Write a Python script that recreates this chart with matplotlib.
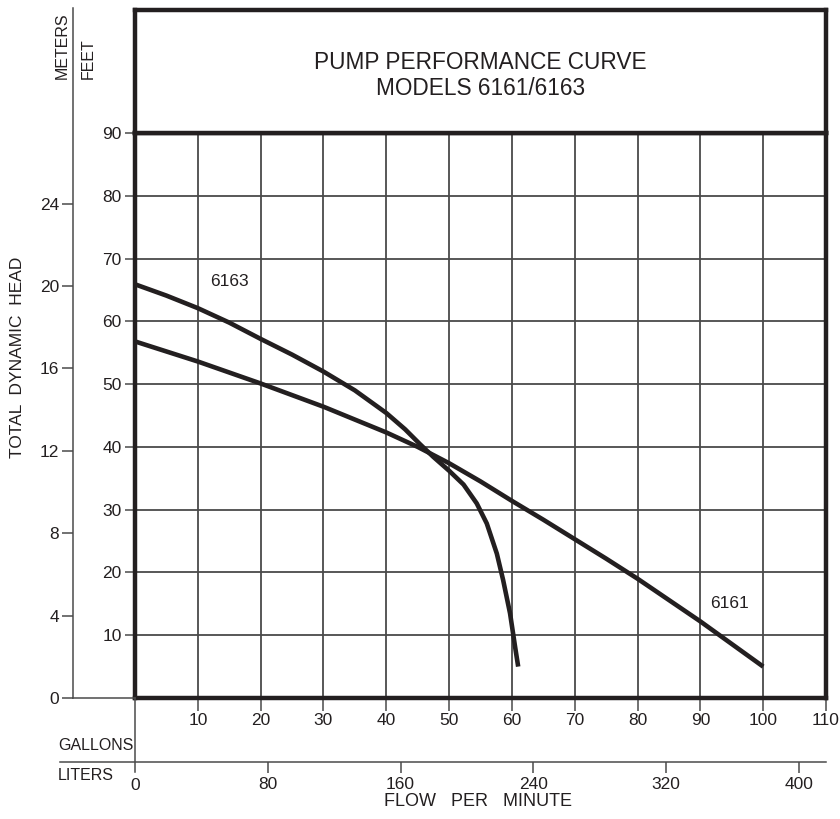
import matplotlib
matplotlib.use("Agg")
import matplotlib.pyplot as plt
from matplotlib.lines import Line2D

plt.rcParams['font.family'] = ['Liberation Sans', 'DejaVu Sans']

# data (gallons per minute vs. feet of head)
gpm_6161 = [0, 10, 20, 30, 40, 45, 50, 55, 60, 65, 70, 75, 80, 85, 90, 95, 100]
head_6161 = [56.8, 53.6, 50.1, 46.4, 42.3, 40.0, 37.4, 34.5, 31.4, 28.4, 25.3,
             22.2, 19.0, 15.6, 12.2, 8.6, 5.0]
gpm_6163 = [0, 5, 10, 15, 20, 25, 30, 35, 40, 43, 45.4, 47.5, 50, 52.3,
            54.4, 56, 57.6, 58.6, 59.7, 60.5, 61]
head_6163 = [65.9, 64.1, 62.1, 59.8, 57.2, 54.7, 52.0, 49.0, 45.4, 42.8, 40.4,
             38.4, 36.2, 34.0, 31.0, 27.8, 23.0, 18.8, 13.5, 8.2, 5.0]
gal_ticks = [10, 20, 30, 40, 50, 60, 70, 80, 90, 100, 110]
feet_ticks = [10, 20, 30, 40, 50, 60, 70, 80, 90]
meter_ticks = [0, 4, 8, 12, 16, 20, 24]
liter_ticks = [80, 160, 240, 320, 400]

FT_PER_M = 3.28084
L_PER_GAL = 3.78541
INK = '#231f20'
GRID = '#4a4a4a'

W, H = 840, 819
fig = plt.figure(figsize=(W / 100, H / 100), dpi=100)


def fx(x):
    return x / W


def fy(y):
    return 1 - y / H


px_ft = 565 / 90.0
px_gal = 691 / 110.0

# main grid
ax = fig.add_axes([fx(135), fy(698), 691 / W, 565 / H])
ax.set_xlim(0, 110)
ax.set_ylim(0, 90)
ax.set_xticks(gal_ticks)
ax.set_yticks(feet_ticks)
ax.grid(True, color=GRID, lw=1.3)
for s in ax.spines.values():
    s.set_linewidth(3.2)
    s.set_color(INK)
    s.set_zorder(5)
ax.tick_params(axis='both', direction='out', color=GRID, width=1.1,
               labelsize=12.5, labelcolor=INK)
ax.tick_params(axis='y', length=7.5, pad=2)
ax.tick_params(axis='x', length=9, pad=2)

ax.plot(gpm_6161, head_6161, color=INK, lw=3.3, solid_capstyle='butt',
        solid_joinstyle='round', zorder=4)
ax.plot(gpm_6163, head_6163, color=INK, lw=3.3, solid_capstyle='butt',
        solid_joinstyle='round', zorder=4)
ax.text(15.0, 66.3, '6163', fontsize=12.5, color=INK, ha='center', va='center')
ax.text(94.7, 15.0, '6161', fontsize=12.5, color=INK, ha='center', va='center')

# title box
axt = fig.add_axes([fx(135), fy(133), 691 / W, 123 / H])
axt.set_xticks([])
axt.set_yticks([])
for s in axt.spines.values():
    s.set_linewidth(3.2)
    s.set_color(INK)
axt.text(0.5, 0.47, 'PUMP PERFORMANCE CURVE\nMODELS 6161/6163',
         ha='center', va='center', fontsize=16.3, color=INK,
         linespacing=1.15, transform=axt.transAxes)

# meters axis
axm = fig.add_axes([fx(73), fy(698), 0.0005, 690 / H])
axm.set_ylim(0, 690 / px_ft / FT_PER_M)
axm.set_yticks(meter_ticks)
axm.set_xticks([])
for k in ['top', 'right', 'bottom']:
    axm.spines[k].set_visible(False)
axm.spines['left'].set_color(GRID)
axm.spines['left'].set_linewidth(1.1)
axm.patch.set_visible(False)
axm.tick_params(axis='y', direction='out', length=8, width=1.1, color=GRID,
                labelsize=12.5, labelcolor=INK, pad=2)

# liters axis
axl = fig.add_axes([fx(60), fy(762), (826 - 60) / W, 0.0005])
axl.set_xlim(-75 / px_gal * L_PER_GAL, 691 / px_gal * L_PER_GAL)
axl.set_xticks(liter_ticks)
axl.set_yticks([])
for k in ['top', 'right', 'left']:
    axl.spines[k].set_visible(False)
axl.spines['bottom'].set_color(GRID)
axl.spines['bottom'].set_linewidth(1.1)
axl.patch.set_visible(False)
axl.tick_params(axis='x', direction='out', length=8, width=1.1, color=GRID,
                labelsize=12.5, labelcolor=INK, pad=3)

# connecting lines
fig.add_artist(Line2D([fx(73), fx(135)], [fy(698), fy(698)], color=GRID, lw=1.1))
fig.add_artist(Line2D([fx(135), fx(135)], [fy(698), fy(772)], color=GRID, lw=1.1))
fig.text(fx(135), fy(778), '0', ha='center', va='top', fontsize=12.5, color=INK)

# labels
fig.text(fx(62), fy(12), 'METERS', rotation=90, ha='center', va='top',
         fontsize=11.5, color=INK)
fig.text(fx(88), fy(38), 'FEET', rotation=90, ha='center', va='top',
         fontsize=11.5, color=INK)
fig.text(fx(18), fy(357), 'TOTAL  DYNAMIC  HEAD', rotation=90, ha='center',
         va='center', fontsize=12.5, color=INK)
fig.text(fx(478), fy(802), 'FLOW   PER   MINUTE', ha='center', va='center',
         fontsize=13, color=INK)
fig.text(fx(58), fy(745), 'GALLONS', ha='left', va='center', fontsize=11.5, color=INK)
fig.text(fx(58), fy(775), 'LITERS', ha='left', va='center', fontsize=11.5, color=INK)

fig.savefig('out.png', dpi=100)
